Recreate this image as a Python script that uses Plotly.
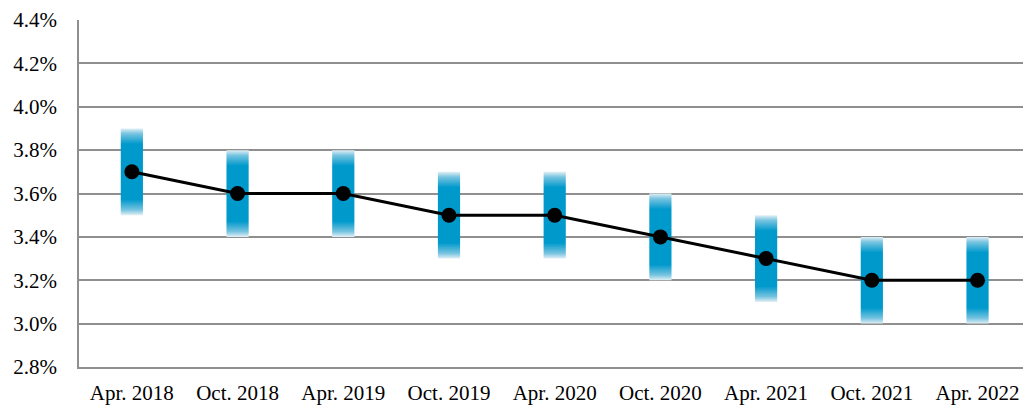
import plotly.graph_objects as go

# Survey dates and the central estimate with its range (in percent)
periods = ["Apr. 2018", "Oct. 2018", "Apr. 2019", "Oct. 2019", "Apr. 2020",
           "Oct. 2020", "Apr. 2021", "Oct. 2021", "Apr. 2022"]
central = [3.7, 3.6, 3.6, 3.5, 3.5, 3.4, 3.3, 3.2, 3.2]
range_low = [3.5, 3.4, 3.4, 3.3, 3.3, 3.2, 3.1, 3.0, 3.0]
range_high = [3.9, 3.8, 3.8, 3.7, 3.7, 3.6, 3.5, 3.4, 3.4]

BLUE = "rgb(0,153,204)"
EDGE = "rgb(226,240,246)"
HALF_WIDTH = 0.105   # half the band width, in category units

# Vertical gradient: pale at both ends, solid blue in the middle
band_scale = [[0.0, EDGE], [0.06, "rgb(120,196,224)"], [0.18, BLUE],
              [0.82, BLUE], [0.94, "rgb(120,196,224)"], [1.0, EDGE]]

xpos = list(range(len(periods)))

fig = go.Figure()

# Range bands as gradient-filled rectangles centred on each period
for x, lo, hi in zip(xpos, range_low, range_high):
    fig.add_trace(go.Scatter(
        x=[x - HALF_WIDTH, x + HALF_WIDTH, x + HALF_WIDTH, x - HALF_WIDTH, x - HALF_WIDTH],
        y=[lo, lo, hi, hi, lo],
        mode="lines", line=dict(width=0, color=BLUE),
        fill="toself",
        fillgradient=dict(type="vertical", colorscale=band_scale, start=lo, stop=hi),
        hoverinfo="skip", showlegend=False,
    ))

# Central estimate line
fig.add_trace(go.Scatter(
    x=xpos, y=central, mode="lines+markers",
    line=dict(color="black", width=3),
    marker=dict(color="black", size=15),
    showlegend=False,
))

fig.update_layout(
    width=1023, height=408,
    margin=dict(l=79, r=0, t=20, b=41),
    paper_bgcolor="white", plot_bgcolor="white",
    font=dict(family="Liberation Serif, Times New Roman, serif", size=21, color="black"),
)
fig.update_xaxes(
    range=[-0.5, 8.43], tickvals=xpos, ticktext=periods,
    showgrid=False, zeroline=False,
    showline=True, linecolor="#8f8f8f", linewidth=1.5,
    ticks="", ticklabelstandoff=6,
)
fig.update_yaxes(
    range=[2.8, 4.4], dtick=0.2, tickformat=".1f", ticksuffix="%",
    showgrid=True, gridcolor="#8f8f8f", gridwidth=1.5,
    showline=True, linecolor="#8f8f8f", linewidth=1.5,
    zeroline=False, ticks="", ticklabelstandoff=16,
)

fig.write_html("out.html")
